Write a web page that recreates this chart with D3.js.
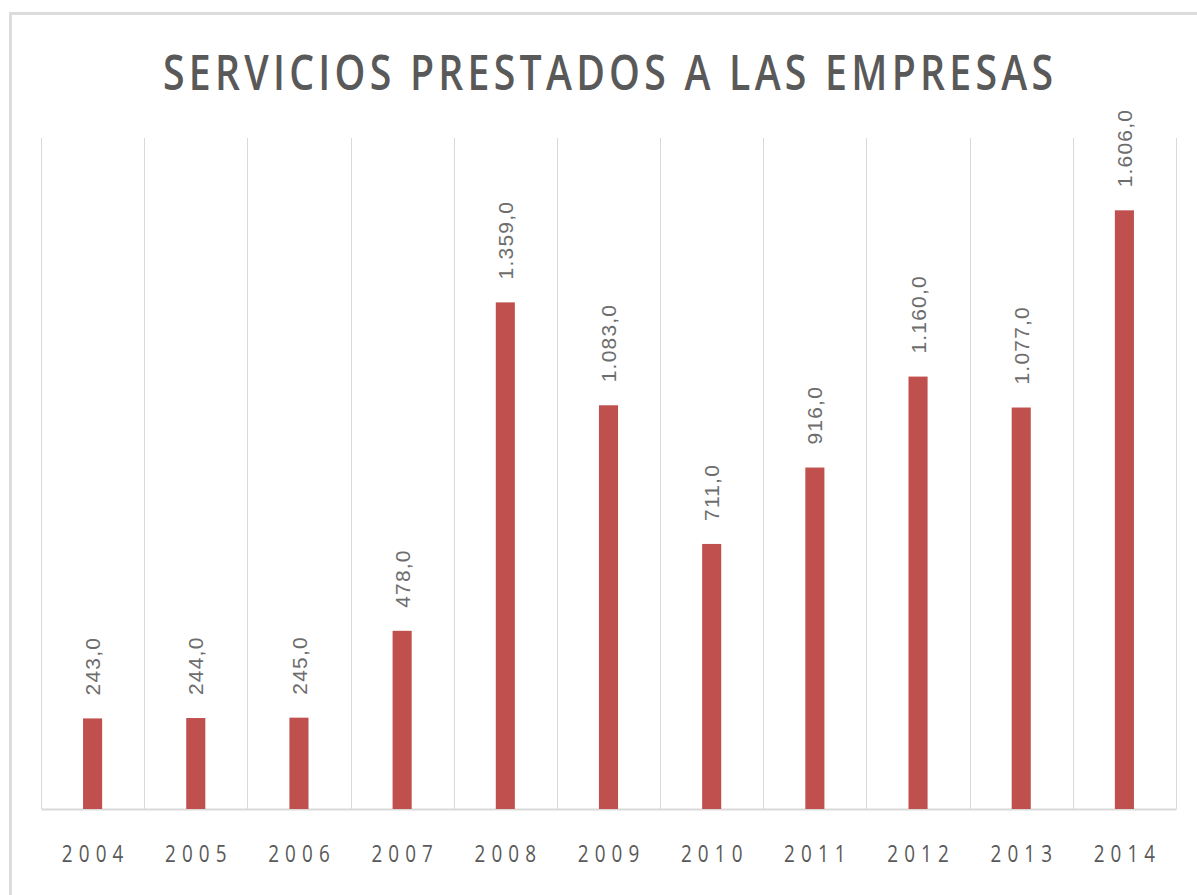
<!DOCTYPE html>
<html>
<head>
<meta charset="utf-8">
<script src="https://cdn.jsdelivr.net/npm/d3@7"></script>
<style>
  body { margin: 0; background: #fff; }
  svg { display: block; }
</style>
</head>
<body>
<div id="app"></div>
<script>
const years = ['2004', '2005', '2006', '2007', '2008', '2009', '2010', '2011', '2012', '2013', '2014'];
const values = [243, 244, 245, 478, 1359, 1083, 711, 916, 1160, 1077, 1606];
const chartTitle = 'SERVICIOS PRESTADOS A LAS EMPRESAS';

let width = 1197, height = 895;
let margin = { top: 138, right: 21, bottom: 86, left: 41 };

const esLocale = d3.formatLocale({ decimal: ',', thousands: '.', grouping: [3], currency: ['', ' €'] });
const fmt = esLocale.format(',.1f');

let svg = d3.select('#app').append('svg')
  .attr('width', width).attr('height', height);

// outer chart frame (cut off on the right and bottom like the screenshot)
svg.append('rect')
  .attr('x', 10.5).attr('y', 13.5)
  .attr('width', width + 20).attr('height', height + 20)
  .attr('fill', 'none')
  .attr('stroke', '#dcdcdc')
  .attr('stroke-width', 3);

let x = d3.scaleBand()
  .domain(years)
  .range([margin.left, width - margin.right])
  .padding(0);

let y = d3.scaleLinear()
  .domain([0, 1800])
  .range([height - margin.bottom, margin.top]);

// vertical category separators
const bounds = years.map(d => x(d)).concat([x.range()[1]]);
svg.append('g')
  .attr('class', 'grid')
  .selectAll('line')
  .data(bounds)
  .enter()
  .append('line')
  .attr('x1', d => Math.round(d) + 0.5)
  .attr('x2', d => Math.round(d) + 0.5)
  .attr('y1', y(1800))
  .attr('y2', y(0))
  .attr('stroke', '#d9d9d9')
  .attr('stroke-width', 1);

// category axis
const xAxis = d3.axisBottom(x).tickSize(0).tickPadding(0);
const gx = svg.append('g')
  .attr('transform', `translate(0, ${y(0)})`)
  .call(xAxis);
gx.select('.domain').attr('stroke', '#d9d9d9').attr('stroke-width', 2);
gx.selectAll('.tick text')
  .attr('y', 0)
  .attr('dy', 0)
  .attr('transform', d => `translate(0, 53) scale(0.82, 1)`)
  .attr('textLength', 75)
  .attr('lengthAdjust', 'spacing')
  .style('font-family', '"Open Sans", sans-serif')
  .style('font-size', '23px')
  .style('fill', '#595959');

const bw = x.bandwidth() * 0.185;

svg.append('g')
  .attr('class', 'bars')
  .selectAll('rect')
  .data(values)
  .enter()
  .append('rect')
  .attr('x', (d, i) => x(years[i]) + (x.bandwidth() - bw) / 2)
  .attr('y', d => y(d))
  .attr('width', bw)
  .attr('height', d => y(0) - y(d))
  .attr('fill', '#c0504d');

svg.append('g')
  .attr('class', 'labels')
  .selectAll('text')
  .data(values)
  .enter()
  .append('text')
  .attr('transform', (d, i) => `translate(${x(years[i]) + x.bandwidth() / 2}, ${y(d) - 23}) rotate(-90)`)
  .attr('dy', '0.36em')
  .style('font-family', '"Liberation Sans", sans-serif')
  .style('font-size', '21px')
  .style('letter-spacing', '1.2px')
  .style('fill', '#6d6d6d')
  .text(d => fmt(d));

svg.append('text')
  .attr('transform', 'translate(608, 90) scale(0.8, 1)')
  .attr('text-anchor', 'middle')
  .attr('textLength', 890 / 0.8)
  .attr('lengthAdjust', 'spacing')
  .style('font-family', '"Open Sans", sans-serif')
  .style('font-weight', 600)
  .style('font-size', '49px')
  .style('fill', '#595959')
  .text(chartTitle);
</script>
</body>
</html>
